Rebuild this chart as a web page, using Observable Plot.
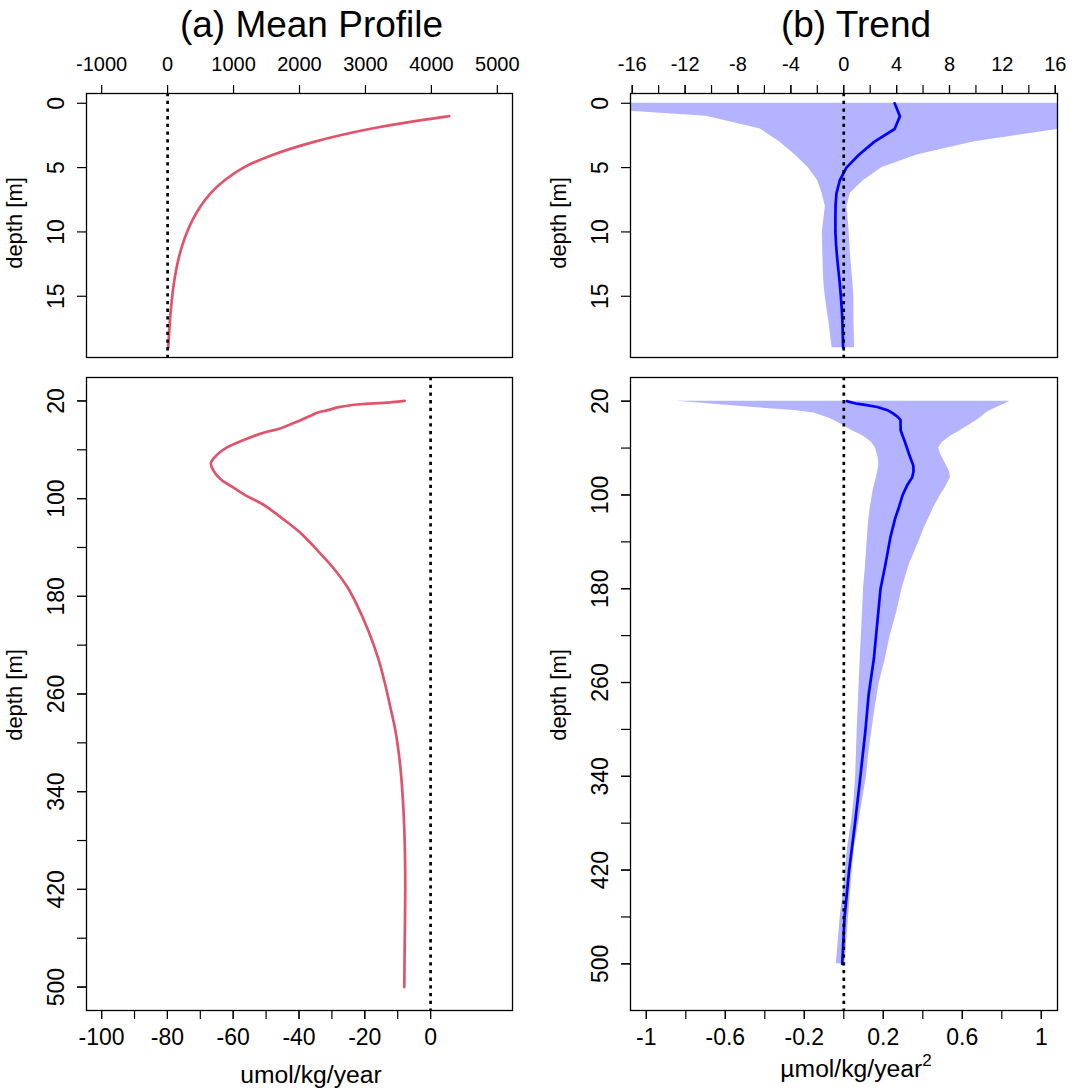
<!DOCTYPE html>
<html><head><meta charset="utf-8">
<script src="https://cdn.jsdelivr.net/npm/d3@7"></script>
<script src="https://cdn.jsdelivr.net/npm/@observablehq/plot@0.6"></script>
<style>
html,body{margin:0;padding:0;background:#fff;}
#root{position:relative;width:1092px;height:1091px;overflow:hidden;background:#fff;}
.panel{position:absolute;}
#labels{position:absolute;left:0;top:0;pointer-events:none;}
</style></head><body><div id="root"></div>
<script>
// ---------- (a) Mean profile, surface 0-19 m ----------
const meanSurfDepth = [1,2,3,4,5,6,7,8,9,10,11,12,13,14,15,16,17,18,19];
const meanSurfValue = [4270,3060,2220,1600,1150,860,650,500,385,295,225,170,128,95,70,50,34,21,10];

// ---------- (a) Mean profile, 20-500 m ----------
const meanDeepDepth = [20,21.6,22.7,24.9,27.7,29.6,31.5,37,42.5,46,52,58,64,71,77,84,91,98,105,117,128,145,157,172,187,209,231,250,270,290,310,330,350,370,390,420,460,500];
const meanDeepValue = [-7.9,-14.3,-21.4,-27.5,-31.5,-34.5,-36,-40.6,-45.7,-50.8,-56.8,-61.9,-64.9,-66.8,-66,-63.9,-59.9,-55.8,-50.8,-44.7,-39.6,-33.5,-29.5,-25.4,-22.4,-18.8,-15.9,-14.0,-12.3,-10.7,-9.6,-8.85,-8.35,-8.0,-7.8,-7.7,-7.85,-8.0];

// ---------- (b) Trend, surface 0-19 m ----------
const trendSurfDepth = [0,1,2,3,4,5,6,7,8,9,10,11,12,13,14,15,16,17,18,19];
const trendSurfValue = [3.85,4.25,3.85,2.3,1.15,0.2,-0.3,-0.55,-0.62,-0.63,-0.63,-0.58,-0.5,-0.4,-0.3,-0.22,-0.15,-0.1,-0.07,-0.05];
const trendSurfLow   = [-25.5,-10.4,-6.3,-4.86,-3.7,-2.7,-1.98,-1.64,-1.39,-1.5,-1.62,-1.6,-1.57,-1.55,-1.5,-1.4,-1.27,-1.12,-1.0,-0.88];
const trendSurfHigh  = [25,22,16.4,9.9,5.6,2.9,1.5,0.5,0.25,0.33,0.41,0.46,0.53,0.61,0.7,0.76,0.77,0.78,0.8,0.82];

// ---------- (b) Trend, 20-500 m ----------
const bandDeepDepth = [20,22,25,28,30,35,40,45,50,55,60,65,70,75,80,85,90,95,100,110,120,130,140,160,180,200,220,240,260,280,300,320,340,360,380,400,420,440,460,480,500];
const bandDeepLow   = [-0.85,-0.7,-0.49,-0.25,-0.15,-0.067,-0.01,0.04,0.1,0.14,0.16,0.169,0.176,0.177,0.172,0.165,0.158,0.15,0.145,0.135,0.127,0.122,0.118,0.11,0.10,0.095,0.089,0.083,0.078,0.073,0.068,0.064,0.06,0.052,0.038,0.02,0.008,-0.004,-0.018,-0.028,-0.038];
const bandDeepHigh  = [0.84,0.82,0.78,0.742,0.72,0.685,0.64,0.59,0.54,0.5,0.48,0.49,0.505,0.52,0.535,0.54,0.525,0.51,0.49,0.457,0.43,0.403,0.38,0.33,0.295,0.268,0.235,0.21,0.18,0.16,0.143,0.127,0.115,0.095,0.075,0.055,0.042,0.033,0.024,0.015,0.005];
const trendDeepDepth = [20,22,23,25,28,30,33,36,45,55,65,75,80,85,92,100,110,120,136,160,180,210,240,270,300,340,380,420,460,500];
const trendDeepValue = [0.015,0.06,0.10,0.17,0.225,0.245,0.27,0.287,0.288,0.31,0.33,0.352,0.353,0.346,0.32,0.298,0.28,0.26,0.236,0.21,0.186,0.169,0.152,0.126,0.11,0.084,0.057,0.027,0.004,-0.008];

// ---------- tick labels ----------
const ticksTopA = [-1000,0,1000,2000,3000,4000,5000];
const ticksTopB = [-16,-12,-8,-4,0,4,8,12,16];
const minorTopB = [-16,-14,-12,-10,-8,-6,-4,-2,0,2,4,6,8,10,12,14,16];
const ticksYSurf = [0,5,10,15];
const ticksYDeep = [20,100,180,260,340,420,500];
const minorYDeep = [20,60,100,140,180,220,260,300,340,380,420,460,500];
const ticksBotA = [-100,-80,-60,-40,-20,0];
const minorBotA = [-100,-90,-80,-70,-60,-50,-40,-30,-20,-10,0];
const ticksBotB = [-1,-0.6,-0.2,0.2,0.6,1];
const minorBotB = [-1,-0.8,-0.6,-0.4,-0.2,0,0.2,0.4,0.6,0.8,1];

const FONT = "'Liberation Sans', Arial, Helvetica, sans-serif";
const RED = "#DF536B", BLUE = "#0000FF", BAND = "#B3B3FF";
const root = document.getElementById("root");
const zip = (ds, vs, k = "v") => ds.map((d, i) => ({depth: d, [k]: vs[i]}));
const fmt = d => String(d);

const meanSurf = zip(meanSurfDepth, meanSurfValue);
const meanDeep = zip(meanDeepDepth, meanDeepValue);
const trendSurf = trendSurfDepth.map((d, i) => ({depth: d, v: trendSurfValue[i], lo: trendSurfLow[i], hi: trendSurfHigh[i]}));
const bandDeep = bandDeepDepth.map((d, i) => ({depth: d, lo: bandDeepLow[i], hi: bandDeepHigh[i]}));
const trendDeep = zip(trendDeepDepth, trendDeepValue);

const zeroRule = () => Plot.ruleX([0], {stroke: "black", strokeWidth: 2.7, strokeDasharray: "3.3,4.4"});
const frame = () => Plot.frame({stroke: "black", strokeWidth: 1.3});
const yAxes = (major, minor) => [
  ...(minor ? [Plot.axisY({anchor: "left", ticks: minor, tickFormat: () => "", tickSize: 9, strokeWidth: 1.2, label: null})] : []),
  Plot.axisY({anchor: "left", ticks: major, tickFormat: fmt, tickSize: 9, tickRotate: -90, tickPadding: 13.5, fontSize: 23, strokeWidth: 1.2, label: null})
];

function panel({left, top, width, height, mt, mb, ml, mr, xDomain, yDomain, marks}) {
  const svg = Plot.plot({
    width, height, marginTop: mt, marginBottom: mb, marginLeft: ml, marginRight: mr,
    x: {domain: xDomain}, y: {domain: yDomain, reverse: true},
    style: {fontFamily: FONT, fontSize: "23px", color: "black", background: "transparent", overflow: "visible"},
    marks
  });
  const div = document.createElement("div");
  div.className = "panel";
  div.style.left = left + "px"; div.style.top = top + "px";
  div.style.width = width + "px"; div.style.height = height + "px";
  div.appendChild(svg);
  root.appendChild(div);
}

// Top-left
panel({left: 0, top: 0, width: 546, height: 370, mt: 93, mb: 13, ml: 86, mr: 34,
  xDomain: [-1230, 5230], yDomain: [-0.76, 19.76],
  marks: [
    Plot.axisX({anchor: "top", ticks: ticksTopA, tickFormat: fmt, tickSize: 9, tickPadding: 14, fontSize: 20, strokeWidth: 1.2, label: null}),
    ...yAxes(ticksYSurf),
    Plot.line(meanSurf, {x: "v", y: "depth", stroke: RED, strokeWidth: 2.7, curve: "catmull-rom"}),
    zeroRule(), frame()
  ]});

// Bottom-left
panel({left: 0, top: 370, width: 546, height: 721, mt: 7, mb: 81, ml: 86, mr: 34,
  xDomain: [-104.6, 24.9], yDomain: [0.8, 519.2],
  marks: [
    Plot.axisX({anchor: "bottom", ticks: minorBotA, tickFormat: () => "", tickSize: 9, strokeWidth: 1.2, label: null}),
    Plot.axisX({anchor: "bottom", ticks: ticksBotA, tickFormat: fmt, tickSize: 9, tickPadding: 9, fontSize: 23, strokeWidth: 1.2, label: null}),
    ...yAxes(ticksYDeep, minorYDeep),
    Plot.line(meanDeep, {x: "v", y: "depth", stroke: RED, strokeWidth: 2.7, curve: "catmull-rom"}),
    zeroRule(), frame()
  ]});

// Top-right
panel({left: 546, top: 0, width: 546, height: 370, mt: 93, mb: 13, ml: 84, mr: 35,
  xDomain: [-16.13, 16.17], yDomain: [-0.76, 19.76],
  marks: [
    Plot.areaX(trendSurf, {y: "depth", x1: "lo", x2: "hi", fill: BAND, clip: true}),
    Plot.axisX({anchor: "top", ticks: minorTopB, tickFormat: () => "", tickSize: 9, strokeWidth: 1.2, label: null}),
    Plot.axisX({anchor: "top", ticks: ticksTopB, tickFormat: fmt, tickSize: 9, tickPadding: 14, fontSize: 20, strokeWidth: 1.2, label: null}),
    ...yAxes(ticksYSurf),
    Plot.line(trendSurf, {x: "v", y: "depth", stroke: BLUE, strokeWidth: 2.7}),
    zeroRule(), frame()
  ]});

// Bottom-right
panel({left: 546, top: 370, width: 546, height: 721, mt: 7, mb: 81, ml: 84, mr: 35,
  xDomain: [-1.08, 1.082], yDomain: [-0.2, 539.8],
  marks: [
    Plot.areaX(bandDeep, {y: "depth", x1: "lo", x2: "hi", fill: BAND, clip: true}),
    Plot.axisX({anchor: "bottom", ticks: minorBotB, tickFormat: () => "", tickSize: 9, strokeWidth: 1.2, label: null}),
    Plot.axisX({anchor: "bottom", ticks: ticksBotB, tickFormat: fmt, tickSize: 9, tickPadding: 9, fontSize: 23, strokeWidth: 1.2, label: null}),
    ...yAxes(ticksYDeep, minorYDeep),
    Plot.line(trendDeep, {x: "v", y: "depth", stroke: BLUE, strokeWidth: 2.7}),
    zeroRule(), frame()
  ]});

// Titles and axis titles
const ns = "http://www.w3.org/2000/svg";
const lab = document.createElementNS(ns, "svg");
lab.setAttribute("id", "labels");
lab.setAttribute("width", 1092); lab.setAttribute("height", 1091);
lab.setAttribute("font-family", FONT);
lab.innerHTML = `
  <text x="311.5" y="37" font-size="37" text-anchor="middle">(a) Mean Profile</text>
  <text x="856" y="37" font-size="37" text-anchor="middle">(b) Trend</text>
  <text x="311" y="1083" font-size="24.7" text-anchor="middle">umol/kg/year</text>
  <text x="856" y="1077" font-size="24.7" text-anchor="middle">µmol/kg/year<tspan font-size="17" dy="-11">2</tspan></text>
  <text transform="translate(22,223) rotate(-90)" font-size="22" text-anchor="middle">depth [m]</text>
  <text transform="translate(22,695) rotate(-90)" font-size="22" text-anchor="middle">depth [m]</text>
  <text transform="translate(566,223) rotate(-90)" font-size="22" text-anchor="middle">depth [m]</text>
  <text transform="translate(566,695) rotate(-90)" font-size="22" text-anchor="middle">depth [m]</text>
`;
root.appendChild(lab);
</script></body></html>
